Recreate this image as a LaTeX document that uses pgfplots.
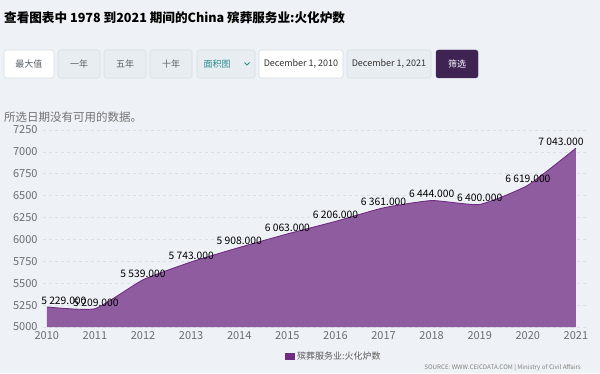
\documentclass[border=0pt]{standalone}
\usepackage{pgfplots}
\pgfplotsset{compat=1.18}
\usepackage{pgfplotstable}
\usepackage{fontspec}
\setmainfont{Noto Sans CJK SC}
\definecolor{bg}{HTML}{EEF2F6}
\definecolor{areac}{HTML}{8F5D9F}
\definecolor{linec}{HTML}{6F2C82}
\definecolor{gridc}{HTML}{D9DFE6}
\definecolor{tickc}{HTML}{6A6E73}
\definecolor{btnfill}{HTML}{E8EDF2}
\definecolor{btnborder}{HTML}{D5DCE3}
\definecolor{btntext}{HTML}{5A5F66}
\definecolor{teal}{HTML}{2A8C8C}
\definecolor{dark}{HTML}{3F2453}
\pgfplotstableread{
year val label dx
2010 5229 {5 229.000} 17
2011 5209 {5 209.000} 1
2012 5539 {5 539.000} 0
2013 5743 {5 743.000} 0
2014 5908 {5 908.000} 0
2015 6063 {6 063.000} 0
2016 6206 {6 206.000} 0
2017 6361 {6 361.000} 0
2018 6444 {6 444.000} 0
2019 6400 {6 400.000} 0
2020 6619 {6 619.000} 0
2021 7043 {7 043.000} -15
}\data
\newcommand{\btn}[5]{%
  \draw[rounded corners=2.5pt, fill=#3, draw=btnborder, line width=0.6pt] (#1pt,295pt) rectangle (#2pt,323pt);
  \node[font=\fontsize{9}{11}\selectfont, text=#4] at ({(#1+#2)/2*1pt},309pt) {#5};}
\begin{document}
\begin{tikzpicture}[x=1pt,y=1pt]
\fill[bg] (0,0) rectangle (600,373);
\useasboundingbox (0,0) rectangle (600,373);
% title
\node[anchor=west, font=\bfseries\fontsize{12.6}{15}\selectfont, text=black, inner sep=0pt] at (4,355) {查看图表中 1978 到2021 期间的China 殡葬服务业:火化炉数};
% buttons
\btn{4}{54}{white}{btntext}{最大值}
\btn{58}{100}{btnfill}{btntext}{一年}
\btn{104}{146}{btnfill}{btntext}{五年}
\btn{150}{192}{btnfill}{btntext}{十年}
\draw[rounded corners=2.5pt, fill=btnfill, draw=btnborder, line width=0.6pt] (197,295) rectangle (255,323);
\node[font=\fontsize{9}{11}\selectfont, text=teal] at (217,309) {面积图};
\draw[teal, line width=1pt] (244.5,310.5) -- (247,308) -- (249.5,310.5);
\btn{259}{343}{white}{black!80}{December 1, 2010}
\btn{347}{431}{btnfill}{black!80}{December 1, 2021}
\draw[rounded corners=2.5pt, fill=dark, draw=dark] (436,295) rectangle (478,323);
\node[font=\fontsize{9}{11}\selectfont, text=white] at (457,309) {筛选};
% no data text
\node[anchor=west, font=\fontsize{11.5}{13}\selectfont, text=black!55, inner sep=0pt] at (4,256) {所选日期没有可用的数据。};
% source
\node[anchor=east, font=\fontsize{6.2}{7}\selectfont, text=black!50, inner sep=0pt] at (581,5) {SOURCE: WWW.CEICDATA.COM | Ministry of Civil Affairs};
\begin{axis}[
  at={(43pt,46pt)}, anchor=south west, scale only axis,
  width=545pt, height=197pt,
  xmin=2009.92, xmax=2021.25, ymin=5000, ymax=7250,
  xtick={2010,...,2021}, ytick={5000,5250,...,7250},
  axis line style={draw=none}, major tick style={draw=none},
  ymajorgrids, grid style={dash pattern=on 3pt off 3pt, color=gridc, line width=0.6pt},
  /pgf/number format/assume math mode=true,
  /pgf/number format/1000 sep={},
  ticklabel style={font=\fontsize{11}{12}\selectfont, text=tickc},
  yticklabel style={xshift=-2pt},
  xticklabel style={yshift=-1pt},
  legend style={at={(0.444,-0.152)}, anchor=west, draw=none, fill=none,
    font=\fontsize{9}{11}\selectfont, text=black!65, inner sep=0pt},
  legend image code/.code={\fill[linec] (0pt,-3.5pt) rectangle (10pt,3.5pt);},
]
\addplot[fill=areac, draw=none, smooth, tension=0.3] table[x=year, y=val] {\data} \closedcycle;
\addlegendentry{殡葬服务业:火化炉数}
\addplot[draw=linec, line width=0.9pt, smooth, tension=0.3, forget plot,
  point meta=explicit symbolic,
  visualization depends on={\thisrow{dx} \as \dx},
  nodes near coords,
  every node near coord/.append style={font=\fontsize{10.3}{12}\selectfont, text=black, anchor=south, inner sep=1pt, yshift=1pt, xshift=\dx pt}]
  table[x=year, y=val, meta=label] {\data};
\end{axis}
\end{tikzpicture}
\end{document}
